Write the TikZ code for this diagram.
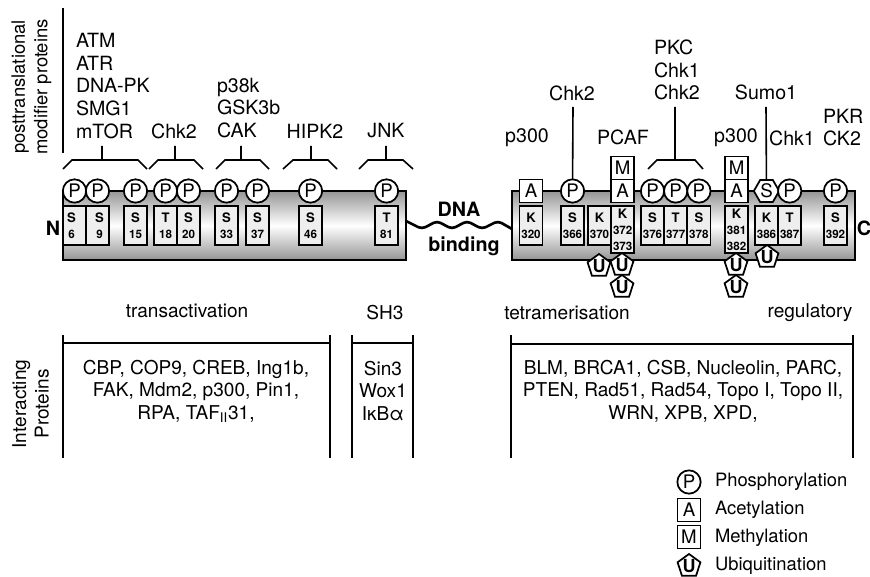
\documentclass[tikz,border=0pt]{standalone}
\usepackage{fontspec}
\setmainfont{TeX Gyre Heros}
\usepackage{xcolor}
\usepackage{tikz}
\usetikzlibrary{positioning,shapes.geometric}
\definecolor{barDark}{HTML}{959595}
\definecolor{resFill}{HTML}{EEEEEE}
\newcommand{\rnum}[1]{{\fontsize{8.7}{12}\selectfont #1}}
\tikzset{
  lbl/.style={inner sep=0pt, outer sep=0pt, align=left, font=\fontsize{14.3}{16.9}\selectfont},
  lblc/.style={lbl, align=center},
  lbltop/.style={lbl, font=\fontsize{14.7}{16.9}\selectfont},
  lbltopc/.style={lbltop, align=center},
  lblleg/.style={lbl, anchor=west, font=\fontsize{13.8}{16.9}\selectfont},
  bigl/.style={inner sep=0pt, outer sep=0pt, font=\fontsize{14.8}{17}\selectfont\bfseries},
  domainbar/.style={draw=black, line width=1.6pt, inner sep=0pt, outer sep=0pt, minimum height=51.75pt, minimum width=257.25pt, top color=barDark, bottom color=barDark, middle color=white},
  resid/.style={draw=black, line width=1.3pt, fill=resFill, inner sep=0pt, outer sep=0pt, align=center, minimum width=17.4pt, minimum height=29.25pt, font=\fontsize{9.8}{12}\selectfont\bfseries},
  residtall/.style={resid, minimum height=35.25pt, anchor=north west},
  phos/.style={circle, draw=black, line width=1.3pt, fill=white, inner sep=0pt, outer sep=0pt, minimum size=17.5pt, font=\fontsize{14}{14}\selectfont},
  acet/.style={rectangle, draw=black, line width=1.3pt, fill=white, inner sep=0pt, outer sep=0pt, minimum size=17.2pt, font=\fontsize{14}{14}\selectfont},
  sumo/.style={regular polygon, regular polygon sides=6, draw=black, line width=1.3pt, fill=white, inner sep=0pt, outer sep=0pt, minimum size=19pt, font=\fontsize{14}{14}\selectfont},
  ubiq/.style={regular polygon, regular polygon sides=5, draw=black, line width=1.3pt, fill=white, inner sep=0pt, outer sep=0pt, minimum size=18pt, font=\fontsize{13.5}{14}\selectfont\bfseries},
  brk/.style={draw=black, line width=1.2pt},
}
\begin{document}
\begin{tikzpicture}[x=0.75pt,y=-0.75pt]
\useasboundingbox (0,0) rectangle (870,577);
\node[lblc, rotate=90, font=\fontsize{13.8}{16.9}\selectfont] (ptmlbl) at (31.5,87) {posttranslational\\modifier proteins};
\draw[brk] (63,8) -- (63,153);
\node[lbltop, anchor=west] (atm) at (76,86) {ATM\\ATR\\DNA-PK\\SMG1\\mTOR};
\node[lbltopc] (chk2a) at (174,131) {Chk2};
\node[lbltop, anchor=west] (p38k) at (217,108) {p38k\\GSK3b\\CAK};
\node[lbltopc] (hipk) at (315,131) {HIPK2};
\node[lbltopc] (jnk) at (386,131) {JNK};
\node[lbltopc] (p300a) at (527,138) {p300};
\node[lbltopc] (chk2b) at (572,93) {Chk2};
\node[lbltopc] (pcaf) at (623,137) {PCAF};
\node[lbltop, anchor=west] (pkc) at (654,70) {PKC\\Chk1\\Chk2};
\node[lbltopc] (p300b) at (736,138) {p300};
\node[lbltopc] (sumolbl) at (766,92) {Sumo1};
\node[lbltopc] (chk1) at (792,138) {Chk1};
\node[lbltop, anchor=west] (pkr) at (823,127.5) {PKR\\CK2};
\draw[brk] (63,169) -- (72,160) -- (138,160) -- (147,169) (102,146) -- (102,160);
\draw[brk] (149,169) -- (158,160) -- (194,160) -- (203,169) (175,146) -- (175,160);
\draw[brk] (216,169) -- (225,160) -- (260,160) -- (269,169) (241,146) -- (241,160);
\draw[brk] (283,169) -- (293,160) -- (328,160) -- (337,169) (311,146) -- (311,160);
\draw[brk] (359,169) -- (368,160) -- (403,160) -- (413,169) (386,146) -- (386,160);
\draw[brk] (648,169) -- (657,160) -- (695,160) -- (703,169) (675,107) -- (675,160);
\coordinate (dnaL) at (406,221);
\coordinate (dnaR) at (512,229);
\draw[line width=2pt, rounded corners=3pt] (dnaL) -- (422,229) -- (437,221) -- (452,229) -- (467,221) -- (482,229) -- (498,221) -- (dnaR);
\node[domainbar] (barN) at (234.5,225.5) {};
\node[domainbar] (barC) at (683.5,225.5) {};
\node[bigl] (nterm) at (53,228) {N};
\node[bigl] (cterm) at (864,228) {C};
\node[bigl] (dna) at (459,209) {DNA};
\node[bigl] (binding) at (464,246) {binding};
\node[resid] (s6) at (74.5,225.5) {\hspace*{-4.5pt}S\\\hspace*{-4.5pt}\rnum{6}};
\node[resid] (s9) at (97.5,225.5) {\hspace*{3pt}S\\\hspace*{3pt}\rnum{9}};
\node[resid] (s15) at (135.5,225.5) {S\\\rnum{15}};
\node[resid] (t18) at (165.5,225.5) {T\\\rnum{18}};
\node[resid] (s20) at (188.5,225.5) {S\\\rnum{20}};
\node[resid] (s33) at (226.5,225.5) {S\\\rnum{33}};
\node[resid] (s37) at (257.5,225.5) {S\\\rnum{37}};
\node[resid] (s46) at (310.5,225.5) {S\\\rnum{46}};
\node[resid] (t81) at (386.5,225.5) {T\\\rnum{81}};
\node[resid] (k320) at (531,225.5) {K\\\rnum{320}};
\node[resid] (s366) at (572.5,225.5) {S\\\rnum{366}};
\node[resid] (k370) at (599.5,225.5) {K\\\rnum{370}};
\node[residtall] (k372) at (k370.north east) {K\\\rnum{372}\\\rnum{373}};
\node[resid] (s376) at (652.5,225.5) {S\\\rnum{376}};
\node[resid, right=0pt of s376] (t377) {T\\\rnum{377}};
\node[resid, right=0pt of t377] (s378) {S\\\rnum{378}};
\node[residtall] (k381) at (725,206) {K\\\rnum{381}\\\rnum{382}};
\node[resid] (k386) at (766.5,225.5) {K\\\rnum{386}};
\node[resid, right=0pt of k386] (t387) {T\\\rnum{387}};
\node[resid] (s392) at (835.5,225.5) {S\\\rnum{392}};
\node[phos] (p6) at (s6 |- barN.north) {P};
\node[phos] (p9) at (s9 |- barN.north) {P};
\node[phos] (p15) at (s15 |- barN.north) {P};
\node[phos] (p18) at (t18 |- barN.north) {P};
\node[phos] (p20) at (s20 |- barN.north) {P};
\node[phos] (p33) at (s33 |- barN.north) {P};
\node[phos] (p37) at (s37 |- barN.north) {P};
\node[phos] (p46) at (s46 |- barN.north) {P};
\node[phos] (p81) at (t81 |- barN.north) {P};
\node[acet] (a320) at (k320 |- barC.north) {A};
\node[phos] (p366) at (s366 |- barC.north) {P};
\node[acet] (a372) at (k372 |- barC.north) {A};
\node[acet, above=0pt of a372] (m372) {M};
\node[phos] (p376) at (s376 |- barC.north) {P};
\node[phos] (p377) at (t377 |- barC.north) {P};
\node[phos] (p378) at (s378 |- barC.north) {P};
\node[acet] (a381) at (k381 |- barC.north) {A};
\node[acet, above=0pt of a381] (m381) {M};
\node[sumo] (s386) at (k386 |- barC.north) {S};
\node[phos] (p387) at (t387 |- barC.north) {P};
\node[phos] (p392) at (s392 |- barC.north) {P};
\coordinate (chk2top) at (573,107);
\coordinate (sumotop) at (766,107);
\draw[brk] (chk2top) -- (p366);
\draw[brk] (sumotop) -- (s386);
\node[ubiq] (u370) at (599,266) {U};
\node[ubiq] (u372b) at (622,287) {U};
\node[ubiq] (u372a) at (622,265) {U};
\node[ubiq] (u381b) at (736,287) {U};
\node[ubiq] (u381a) at (736,265) {U};
\node[ubiq] (u386) at (767,257) {U};
\node[lblc] (trans) at (187,311) {transactivation};
\node[lblc] (sh3) at (385,313) {SH3};
\node[lblc] (tetra) at (567,313) {tetramerisation};
\node[lblc] (regul) at (810,313) {regulatory};
\node[lblc, rotate=90] (intlbl) at (30.5,404) {Interacting\\Proteins};
\draw[brk] (63,335) -- (63,458) (330,335) -- (330,458) (63,343) -- (330,343);
\draw[brk] (352,335) -- (352,458) (413,335) -- (413,458) (352,343) -- (413,343);
\draw[brk] (511,335) -- (511,458) (853,335) -- (853,458) (511,344) -- (853,344);
\node[lblc] (intTrans) at (196,391) {CBP, COP9, CREB, Ing1b,\\FAK, Mdm2, p300, Pin1,\\RPA, TAF\textsubscript{II}31,};
\node[lblc] (intSh) at (383,391) {Sin3\\Wox1\\IκBα};
\node[lblc] (intReg) at (683,391) {BLM, BRCA1, CSB, Nucleolin, PARC,\\PTEN, Rad51, Rad54, Topo I, Topo II,\\WRN, XPB, XPD,};
\node[phos] (legP) at (689,482) {P};
\node[acet] (legA) at (689,510) {A};
\node[acet] (legM) at (689,537) {M};
\node[ubiq] (legU) at (689,566) {U};
\node[lblleg] (legPt) at (715,482) {Phosphorylation};
\node[lblleg] (legAt) at (715,510) {Acetylation};
\node[lblleg] (legMt) at (715,538) {Methylation};
\node[lblleg] (legUt) at (715,566) {Ubiquitination};
\end{tikzpicture}
\end{document}
